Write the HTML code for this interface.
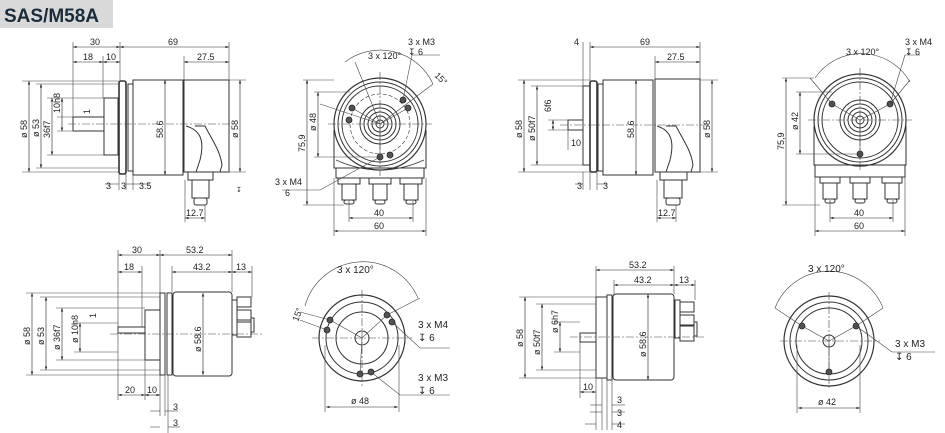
<!DOCTYPE html>
<html><head><meta charset="utf-8"><style>
html,body{margin:0;padding:0;background:#fff;}
svg{display:block;}
text{font-family:"Liberation Sans",sans-serif;font-size:9px;fill:#222;}
</style></head><body>
<svg width="945" height="433" viewBox="0 0 945 433" xmlns="http://www.w3.org/2000/svg">
<defs>
<marker id="a" viewBox="0 0 6 6" refX="6" refY="3" markerWidth="6" markerHeight="6" orient="auto-start-reverse"><path d="M0,1 L6,3 L0,5z" fill="#222"/></marker>
</defs>
<rect x="0" y="0" width="113" height="28" fill="#d9d9d9"/>
<text x="4" y="22" style="font-size:19px;font-weight:bold;fill:#1c2b3a">SAS/M58A</text>

<g fill="none" stroke="#333" stroke-width="1">
<rect x="73" y="117" width="31" height="14"/>
<rect x="104" y="98" width="14" height="57"/>
<rect x="119" y="81" width="7" height="93" rx="2" stroke-width="1.6"/>
<rect x="133" y="80" width="50" height="95"/>
<rect x="128" y="84" width="5" height="87"/>
<path d="M184,80 H229 V172 H184 Z"/>
<path d="M186,126 C200,130 205,140 200,160 L196,172 M205,126 C212,140 220,150 222,165 L220,172 M195,126 L205,126"/>
<rect x="188" y="172" width="25" height="8"/>
<rect x="192" y="180" width="17" height="18"/>
<rect x="194" y="198" width="13" height="7" rx="2"/>
<circle cx="380" cy="124" r="46" stroke-width="1.2"/>
<circle cx="380" cy="124" r="42"/>
<circle cx="380" cy="124" r="38"/>
<circle cx="380" cy="124" r="30" stroke-dasharray="4 2" stroke-width="0.6"/>
<circle cx="380" cy="124" r="4"/><circle cx="380" cy="124" r="8"/><circle cx="380" cy="124" r="12"/><circle cx="380" cy="124" r="16"/><circle cx="380" cy="124" r="20"/>
<path d="M334,130 V168 H426 V130"/>
<path d="M336,160 Q380,180 424,160" stroke-width="0.7"/>
<rect x="336" y="168" width="88" height="10"/>
<rect x="338" y="178" width="22" height="6"/><rect x="342" y="184" width="14" height="16"/><rect x="344" y="200" width="10" height="4" rx="2"/>
<rect x="369" y="178" width="22" height="6"/><rect x="373" y="184" width="14" height="16"/><rect x="375" y="200" width="10" height="4" rx="2"/>
<rect x="400" y="178" width="22" height="6"/><rect x="404" y="184" width="14" height="16"/><rect x="406" y="200" width="10" height="4" rx="2"/>
<rect x="568" y="120" width="15" height="10"/>
<rect x="583" y="86" width="7" height="79"/>
<rect x="590" y="81" width="7" height="91" rx="2" stroke-width="1.6"/>
<rect x="598" y="84" width="5" height="87"/>
<rect x="603" y="80" width="50" height="95"/>
<path d="M655,79 H700 V172 H655 Z"/>
<path d="M657,126 C670,130 675,140 670,160 L666,172 M676,126 C683,140 691,150 693,165 L691,172 M666,126 L676,126"/>
<rect x="660" y="172" width="27" height="8"/><rect x="664" y="180" width="18" height="18"/><rect x="666" y="198" width="14" height="7" rx="2"/>
<circle cx="860" cy="120" r="46" stroke-width="1.2"/>
<circle cx="860" cy="120" r="42"/>
<circle cx="860" cy="120" r="38"/>
<circle cx="860" cy="120" r="4"/><circle cx="860" cy="120" r="8"/><circle cx="860" cy="120" r="12"/><circle cx="860" cy="120" r="16"/><circle cx="860" cy="120" r="20"/>
<path d="M814,126 V165 H906 V126"/>
<rect x="815" y="165" width="90" height="12"/>
<rect x="820" y="177" width="20" height="6"/><rect x="823" y="183" width="14" height="16"/><rect x="825" y="199" width="10" height="4" rx="2"/>
<rect x="850" y="177" width="20" height="6"/><rect x="853" y="183" width="14" height="16"/><rect x="855" y="199" width="10" height="4" rx="2"/>
<rect x="882" y="177" width="20" height="6"/><rect x="885" y="183" width="14" height="16"/><rect x="887" y="199" width="10" height="4" rx="2"/>
<rect x="118" y="327" width="27" height="6"/>
<rect x="145" y="310" width="15" height="50"/>
<rect x="160" y="293" width="5" height="82"/>
<rect x="167" y="293" width="5" height="82"/>
<rect x="173" y="292" width="59" height="84" rx="3"/>
<rect x="232" y="300" width="5" height="35"/>
<rect x="237" y="297" width="14" height="10"/><rect x="237" y="310" width="14" height="10"/>
<rect x="237" y="322" width="14" height="15"/><rect x="251" y="318" width="3" height="14"/>
<circle cx="362" cy="338" r="43" stroke-width="1.2"/>
<circle cx="362" cy="338" r="36"/>
<circle cx="362" cy="338" r="26"/>
<circle cx="362" cy="338" r="7"/>
<rect x="580" y="333" width="16" height="9"/>
<rect x="596" y="297" width="11" height="81"/>
<rect x="607" y="295" width="5" height="85"/>
<rect x="613" y="294" width="61" height="86" rx="3"/>
<rect x="675" y="300" width="5" height="38"/>
<rect x="680" y="302" width="14" height="10"/><rect x="680" y="315" width="14" height="10"/>
<rect x="680" y="326" width="14" height="15"/><rect x="694" y="322" width="3" height="14"/>
<circle cx="829" cy="341" r="45" stroke-width="1.2"/>
<circle cx="829" cy="341" r="39"/>
<circle cx="829" cy="341" r="33"/>
<circle cx="829" cy="341" r="6"/>
</g>

<g fill="#555" stroke="#222" stroke-width="0.8">
<circle cx="352" cy="108" r="3"/><circle cx="349" cy="120" r="3"/><circle cx="403" cy="100" r="3"/><circle cx="408" cy="108" r="3"/><circle cx="380" cy="157" r="3"/><circle cx="390" cy="155" r="3"/>
<circle cx="832" cy="104" r="3"/><circle cx="890" cy="104" r="3"/><circle cx="860" cy="154" r="3"/>
<circle cx="330" cy="320" r="3"/><circle cx="327" cy="330" r="3"/><circle cx="387" cy="315" r="3"/><circle cx="392" cy="322" r="3"/><circle cx="360" cy="374" r="3"/><circle cx="371" cy="372" r="3"/>
<circle cx="802" cy="326" r="3"/><circle cx="856" cy="326" r="3"/><circle cx="829" cy="372" r="3"/>
</g>

<g stroke="#444" stroke-width="0.6" stroke-dasharray="8 2 2 2" fill="none">
<path d="M68,124 H235"/><path d="M560,125 H708"/>
<path d="M328,124 H432 M380,72 V176"/><path d="M808,120 H912 M860,68 V170"/>
<path d="M110,334 H262"/><path d="M570,337 H705"/>
<path d="M312,338 H412 M362,290 V386"/><path d="M780,341 H880 M829,292 V390"/>
</g>

<g stroke="#444" stroke-width="0.6" fill="none">
<path d="M352,108 L380,124 L408,108 M380,124 L380,157 M380,124 L433,84 M380,124 L320,104 M380,124 L355,62"/>
<path d="M832,104 L860,120 L890,104 M860,120 V154 M832,104 L810,78 M890,104 L910,80"/>
<path d="M330,320 L362,338 L387,315 M362,338 L360,374 M330,320 L300,312 M387,315 L420,298 M327,330 L300,320"/>
<path d="M802,326 L829,341 L856,326 M829,341 V372 M802,326 L775,308 M856,326 L883,308"/>
<path d="M345,62 A58,58 0 0 1 433,84" /><path d="M815,78 A56,56 0 0 1 910,82"/>
<path d="M305,306 A60,60 0 0 1 418,298"/><path d="M775,308 A58,58 0 0 1 883,308"/>
<path d="M403,100 L412,55 H440"/><path d="M380,157 L320,190 H282"/>
<path d="M890,104 L905,55 H920"/>
<path d="M392,322 L420,348 H450"/><path d="M371,372 L400,395 H450"/>
<path d="M856,326 L892,352 H935"/>
<path d="M73,42 V117 M120,42 V81 M229,42 V80 M103,56 V98 M184,56 V80"/>
<path d="M22,81 H119 M36,84 H119 M47,98 H104 M47,155 H104 M57,117 H73 M57,131 H73 M36,168 H119 M22,172 H119 M229,80 H246 M229,172 H246"/>
<path d="M119,174 V190 M126,174 V190 M133,175 V190 M185,180 V222 M205,205 V222"/>
<path d="M303,80 H334 M303,205 H344 M314,92 H350 M314,157 H380 M349,200 V222 M413,200 V222 M334,178 V236 M426,178 V236"/>
<path d="M583,42 V86 M590,42 V81 M700,42 V79 M655,56 V79"/>
<path d="M518,80 H590 M531,86 H583 M531,165 H583 M518,172 H590 M548,120 H568 M548,130 H568 M568,130 V150 M700,80 H718 M700,172 H718 M583,172 V190 M590,172 V190 M597,172 V190 M657,180 V222 M676,205 V222"/>
<path d="M782,78 H814 M782,205 H820 M796,92 H832 M796,154 H860 M830,200 V222 M893,200 V222 M815,177 V236 M905,177 V236"/>
<path d="M118,250 V400 M160,250 V293 M232,250 V292 M142,266 V327 M172,266 V292 M252,266 V297 M145,360 V400 M160,375 V416 M165,375 V416 M168,375 V434"/>
<path d="M26,293 H160 M40,297 H160 M56,308 H145 M56,360 H145 M74,323 H118 M74,352 H118 M40,370 H160 M26,375 H160"/>
<path d="M325,345 V412 M399,345 V412"/>
<path d="M596,266 V297 M674,266 V294 M614,280 V294 M695,280 V300 M580,342 V398 M596,378 V430 M602,378 V430 M607,378 V430 M612,378 V430"/>
<path d="M519,297 H596 M536,304 H596 M536,370 H596 M519,378 H596 M554,322 H580 M554,352 H580"/>
<path d="M797,345 V413 M860,345 V413"/>
</g>

<g stroke="#222" stroke-width="0.6" fill="none" marker-start="url(#a)" marker-end="url(#a)">
<path d="M73,47 H120"/><path d="M120,47 H229"/><path d="M73,62 H103"/><path d="M103,62 H120"/><path d="M184,62 H229"/>
<path d="M29,81 V172"/><path d="M41,84 V168"/><path d="M52,98 V155"/><path d="M62,98 V131"/><path d="M165,80 V175"/><path d="M240,80 V172"/>
<path d="M185,218 H205"/>
<path d="M307,80 V205"/><path d="M318,92 V157"/><path d="M349,218 H413"/><path d="M334,231 H426"/>
<path d="M590,47 H700"/><path d="M655,62 H700"/>
<path d="M524,80 V172"/><path d="M537,86 V165"/><path d="M553,120 V130"/><path d="M636,80 V175"/><path d="M712,80 V172"/><path d="M657,218 H676"/>
<path d="M786,78 V205"/><path d="M800,92 V154"/><path d="M830,218 H893"/><path d="M815,231 H905"/>
<path d="M118,255 H160"/><path d="M160,255 H232"/><path d="M118,272 H142"/><path d="M172,272 H232"/><path d="M232,272 H252"/>
<path d="M32,293 V375"/><path d="M46,297 V370"/><path d="M62,308 V360"/><path d="M80,323 V352"/><path d="M203,293 V375"/>
<path d="M118,395 H145"/><path d="M145,395 H160"/>
<path d="M326,407 H398"/>
<path d="M596,270 H674"/><path d="M614,285 H674"/><path d="M674,285 H695"/>
<path d="M525,297 V378"/><path d="M542,304 V370"/><path d="M560,322 V352"/><path d="M648,294 V380"/>
<path d="M580,392 H596"/><path d="M798,408 H860"/>
</g>
<g stroke="#222" stroke-width="0.6" fill="none">
<path d="M105,184 H119 M126,184 H140 M136,184 H150 M575,184 H583 M597,184 H607 M150,411 H160 M165,411 H178 M150,427 H160 M168,427 H180 M590,405 H602 M612,405 H625 M590,412 H602 M612,412 H625 M585,424 H596 M612,424 H625"/>
</g>

<g>
<text x="90" y="45">30</text><text x="168" y="45">69</text><text x="83" y="60">18</text><text x="106" y="60">10</text><text x="197" y="60">27.5</text>
<text x="106" y="189">3</text><text x="121" y="189">3</text><text x="139" y="189">3.5</text><text x="186" y="216">12.7</text>
<text x="236" y="192" style="font-size:7px">↧</text>
<text x="574" y="45">4</text><text x="640" y="45">69</text><text x="667" y="60">27.5</text>
<text x="577" y="189">3</text><text x="603" y="189">3</text><text x="658" y="216">12.7</text><text x="571" y="146">10</text>
<text x="374" y="216">40</text><text x="374" y="229">60</text>
<text x="854" y="216">40</text><text x="854" y="229">60</text>
<text x="368" y="59">3 x 120°</text><text x="408" y="45">3 x M3</text><text x="408" y="55">↧ 6</text>
<text x="275" y="185">3 x M4</text><text x="285" y="196">6</text>
<text x="434" y="76" transform="rotate(45 434 76)">15°</text>
<text x="846" y="55">3 x 120°</text><text x="905" y="45">3 x M4</text><text x="905" y="55">↧ 6</text>
<text x="132" y="253">30</text><text x="186" y="253">53.2</text><text x="124" y="270">18</text><text x="193" y="270">43.2</text><text x="236" y="270">13</text>
<text x="125" y="393">20</text><text x="147" y="393">10</text><text x="173" y="410">3</text><text x="173" y="426">3</text>
<text x="337" y="273" style="font-size:10px">3 x 120°</text>
<text x="298" y="322" transform="rotate(-70 298 322)">15°</text>
<text x="418" y="328" style="font-size:10px">3 x M4</text><text x="418" y="341" style="font-size:10px">↧ 6</text>
<text x="418" y="381" style="font-size:10px">3 x M3</text><text x="418" y="394" style="font-size:10px">↧ 6</text>
<text x="351" y="404">ø 48</text>
<text x="629" y="268">53.2</text><text x="634" y="283">43.2</text><text x="679" y="283">13</text>
<text x="583" y="390">10</text><text x="617" y="403">3</text><text x="617" y="416">3</text><text x="617" y="428">4</text>
<text x="808" y="272" style="font-size:10px">3 x 120°</text>
<text x="895" y="347" style="font-size:10px">3 x M3</text><text x="895" y="360" style="font-size:10px">↧ 6</text>
<text x="818" y="405">ø 42</text>
</g>
<g>
<text transform="translate(27,138) rotate(-90)">ø 58</text>
<text transform="translate(39,137) rotate(-90)">ø 53</text>
<text transform="translate(50,138) rotate(-90)">36f7</text>
<text transform="translate(60,113) rotate(-90)">10h8</text>
<text transform="translate(90,114) rotate(-90)">1</text>
<text transform="translate(163,138) rotate(-90)">58.6</text>
<text transform="translate(238,138) rotate(-90)">ø 58</text>
<text transform="translate(305,152) rotate(-90)">75,9</text>
<text transform="translate(316,131) rotate(-90)">ø 48</text>
<text transform="translate(522,138) rotate(-90)">ø 58</text>
<text transform="translate(535,141) rotate(-90)">ø 50f7</text>
<text transform="translate(551,112) rotate(-90)">6f6</text>
<text transform="translate(634,138) rotate(-90)">58.6</text>
<text transform="translate(710,138) rotate(-90)">ø 58</text>
<text transform="translate(784,150) rotate(-90)">75,9</text>
<text transform="translate(798,130) rotate(-90)">ø 42</text>
<text transform="translate(30,345) rotate(-90)">ø 58</text>
<text transform="translate(44,345) rotate(-90)">ø 53</text>
<text transform="translate(60,350) rotate(-90)">ø 36f7</text>
<text transform="translate(78,343) rotate(-90)">ø 10h8</text>
<text transform="translate(96,318) rotate(-90)">1</text>
<text transform="translate(201,352) rotate(-90)">ø 58.6</text>
<text transform="translate(523,347) rotate(-90)">ø 58</text>
<text transform="translate(540,355) rotate(-90)">ø 50f7</text>
<text transform="translate(558,333) rotate(-90)">ø 6h7</text>
<text transform="translate(646,357) rotate(-90)">ø 58.6</text>
</g>
</svg>
</body></html>
